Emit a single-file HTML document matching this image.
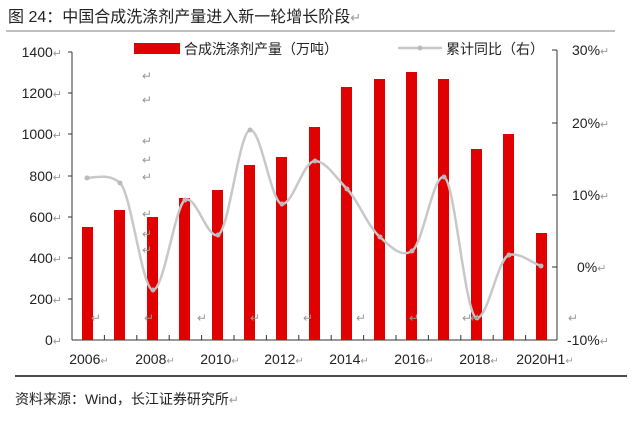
<!DOCTYPE html>
<html><head><meta charset="utf-8"><style>
body{margin:0;background:#fff;}
svg text{font-family:"Liberation Sans","Noto Sans CJK SC",sans-serif;}
</style></head><body>
<svg width="640" height="422" viewBox="0 0 640 422" xmlns="http://www.w3.org/2000/svg">
<rect width="640" height="422" fill="#fff"/>
<text x="8" y="22" font-size="16" fill="#222">图 24：中国合成洗涤剂产量进入新一轮增长阶段<tspan fill="#999" font-size="13">↵</tspan></text>
<line x1="6" y1="31" x2="615" y2="31" stroke="#999" stroke-width="1.2"/>
<line x1="15" y1="376" x2="627" y2="376" stroke="#111" stroke-width="1.6"/>
<text x="15" y="404" font-size="14" fill="#222">资料来源：Wind，长江证券研究所<tspan fill="#999" font-size="12">↵</tspan></text>
<g stroke="#333" stroke-width="1">
<line x1="72" y1="52" x2="72" y2="340"/>
<line x1="72" y1="340" x2="557" y2="340"/>
<line x1="557" y1="50" x2="557" y2="340"/>
<path d="M557,50h-5M557,123h-5M557,195h-5M557,267h-5"/>
<path d="M72,52h-4M72,93h-4M72,134h-4M72,176h-4M72,217h-4M72,258h-4M72,299h-4"/>
<path d="M104.4,340v-5M136.8,340v-5M169.2,340v-5M201.6,340v-5M234,340v-5M266.4,340v-5M298.8,340v-5M331.2,340v-5M363.6,340v-5M396,340v-5M428.4,340v-5M460.8,340v-5M493.2,340v-5M525.6,340v-5"/>
</g>
<g font-size="14" fill="#222" text-anchor="end">
<text x="62" y="57">1400<tspan fill="#999" font-size="11">↵</tspan></text>
<text x="62" y="98">1200<tspan fill="#999" font-size="11">↵</tspan></text>
<text x="62" y="139">1000<tspan fill="#999" font-size="11">↵</tspan></text>
<text x="62" y="181">800<tspan fill="#999" font-size="11">↵</tspan></text>
<text x="62" y="222">600<tspan fill="#999" font-size="11">↵</tspan></text>
<text x="62" y="263">400<tspan fill="#999" font-size="11">↵</tspan></text>
<text x="62" y="304">200<tspan fill="#999" font-size="11">↵</tspan></text>
<text x="62" y="345">0<tspan fill="#999" font-size="11">↵</tspan></text>
</g>
<g font-size="14" fill="#222">
<text x="572" y="55">30%<tspan fill="#999" font-size="11">↵</tspan></text>
<text x="572" y="128">20%<tspan fill="#999" font-size="11">↵</tspan></text>
<text x="572" y="200">10%<tspan fill="#999" font-size="11">↵</tspan></text>
<text x="577" y="272">0%<tspan fill="#999" font-size="11">↵</tspan></text>
<text x="567" y="345">-10%<tspan fill="#999" font-size="11">↵</tspan></text>
</g>
<g fill="#e00000">
<rect x="82" y="227" width="11" height="113"/>
<rect x="114" y="210" width="11" height="130"/>
<rect x="147" y="217" width="11" height="123"/>
<rect x="179" y="198" width="11" height="142"/>
<rect x="212" y="190" width="11" height="150"/>
<rect x="244" y="165" width="11" height="175"/>
<rect x="276" y="157" width="11" height="183"/>
<rect x="309" y="127" width="11" height="213"/>
<rect x="341" y="87" width="11" height="253"/>
<rect x="374" y="79" width="11" height="261"/>
<rect x="406" y="72" width="11" height="268"/>
<rect x="438" y="79" width="11" height="261"/>
<rect x="471" y="149" width="11" height="191"/>
<rect x="503" y="134" width="11" height="206"/>
<rect x="536" y="233" width="11" height="107"/>
</g>
<path d="M87,178 C98,177 110,174 120,183 C131,192 142,290 153,290 C164,290 175,206 185,200 C196,194 207,239 218,235 C229,231 239,132 250,130 C261,128 271,203 282,204 C293,205 303,161 315,161 C326,161 336,178 347,189 C358,200 368,227 380,237 C391,247 401,258 412,251 C423,244 433,174 444,177 C455,180 465,318 477,318 C488,318 498,258 509,255 C520,252 530,262 541,266" fill="none" stroke="#c8c8c8" stroke-width="2.5"/>
<g fill="#bbb">
<circle cx="87" cy="178" r="2.5"/><circle cx="120" cy="183" r="2.5"/><circle cx="153" cy="290" r="2.5"/><circle cx="185" cy="200" r="2.5"/><circle cx="218" cy="235" r="2.5"/><circle cx="250" cy="130" r="2.5"/><circle cx="282" cy="204" r="2.5"/><circle cx="315" cy="161" r="2.5"/><circle cx="347" cy="189" r="2.5"/><circle cx="380" cy="237" r="2.5"/><circle cx="412" cy="251" r="2.5"/><circle cx="444" cy="177" r="2.5"/><circle cx="477" cy="318" r="2.5"/><circle cx="509" cy="255" r="2.5"/><circle cx="541" cy="266" r="2.5"/>
</g>
<g font-size="14" fill="#222" text-anchor="middle">
<text x="89" y="364">2006<tspan fill="#999" font-size="10">↵</tspan></text>
<text x="155" y="364">2008<tspan fill="#999" font-size="10">↵</tspan></text>
<text x="220" y="364">2010<tspan fill="#999" font-size="10">↵</tspan></text>
<text x="284" y="364">2012<tspan fill="#999" font-size="10">↵</tspan></text>
<text x="349" y="364">2014<tspan fill="#999" font-size="10">↵</tspan></text>
<text x="414" y="364">2016<tspan fill="#999" font-size="10">↵</tspan></text>
<text x="479" y="364">2018<tspan fill="#999" font-size="10">↵</tspan></text>
<text x="545" y="364">2020H1<tspan fill="#999" font-size="10">↵</tspan></text>
</g>
<g font-size="12" fill="#999">
<text x="142" y="80">↵</text><text x="142" y="104">↵</text><text x="142" y="145">↵</text><text x="142" y="164">↵</text><text x="142" y="181">↵</text><text x="142" y="218">↵</text><text x="142" y="238">↵</text><text x="142" y="254">↵</text>
<text x="91" y="322">↵</text><text x="144" y="322">↵</text><text x="197" y="322">↵</text><text x="250" y="322">↵</text><text x="303" y="322">↵</text><text x="356" y="322">↵</text><text x="409" y="322">↵</text><text x="462" y="322">↵</text><text x="470" y="322">↵</text><text x="568" y="322">↵</text>
</g>
<rect x="134" y="43" width="46" height="11" fill="#e00000"/>
<text x="184" y="54" font-size="14" fill="#222">合成洗涤剂产量（万吨）</text>
<line x1="398" y1="48" x2="442" y2="48" stroke="#c8c8c8" stroke-width="2.5"/>
<circle cx="420" cy="48" r="2.5" fill="#bbb"/>
<text x="446" y="54" font-size="14" fill="#222">累计同比（右）</text>
</svg>
</body></html>
